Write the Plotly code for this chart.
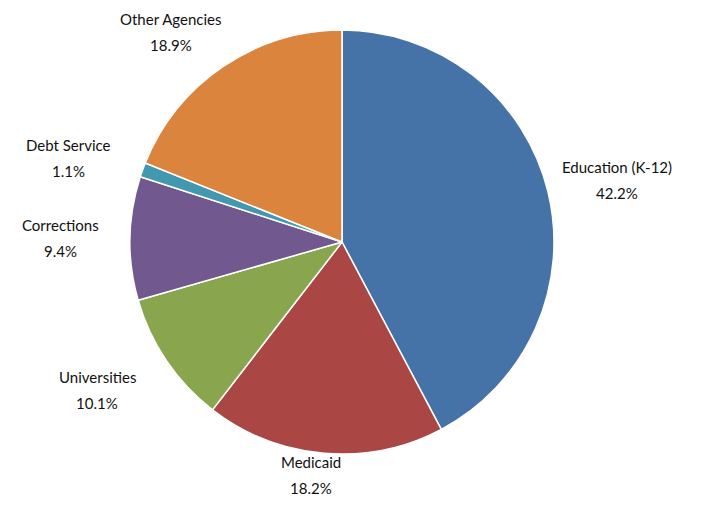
import math
import plotly.graph_objects as go

categories = ["Education (K-12)", "Medicaid", "Universities", "Corrections", "Debt Service", "Other Agencies"]
shares = [42.2, 18.2, 10.1, 9.4, 1.1, 18.9]
colors = ["#4572A7", "#AA4643", "#89A54E", "#71588F", "#4198AF", "#DB843D"]

# label placement: (angle nudge in degrees, distance as fraction of radius)
label_layout = [(1.3, 1.33), (2.7, 1.11), (2.9, 1.35), (-0.2, 1.33), (-2.8, 1.35), (-5.1, 1.28)]

W, H = 708, 513
OFF = 8  # page body margin offset
cx, cy, R = 342 - OFF, 242 - OFF, 212
line_gap = 13

fig = go.Figure(go.Pie(
    labels=categories,
    values=shares,
    sort=False,
    direction="clockwise",
    rotation=0,
    marker=dict(colors=colors, line=dict(color="white", width=1.5)),
    textinfo="none",
    hoverinfo="label+percent",
    showlegend=False,
    domain=dict(x=[(cx - R) / W, (cx + R) / W], y=[(H - cy - R) / H, (H - cy + R) / H]),
))

total = sum(shares)
acc = 0.0
annotations = []
font = dict(family="Lato", size=15, color="#111111")
for cat, v, (nudge, dist) in zip(categories, shares, label_layout):
    mid = (acc + v / 2) / total * 360.0 + nudge
    acc += v
    a = math.radians(mid)
    px = cx + dist * R * math.sin(a)
    py = cy - dist * R * math.cos(a)
    for txt, dy in ((cat, -line_gap), (f"{v:.1f}%", line_gap)):
        annotations.append(dict(
            x=px / W, y=1 - (py + dy) / H, xref="paper", yref="paper",
            text=txt, showarrow=False,
            xanchor="center", yanchor="middle", align="center",
            font=font,
        ))

fig.update_layout(
    width=W, height=H,
    margin=dict(l=0, r=0, t=0, b=0),
    paper_bgcolor="white", plot_bgcolor="white",
    annotations=annotations,
)

fig.write_html("out.html")
